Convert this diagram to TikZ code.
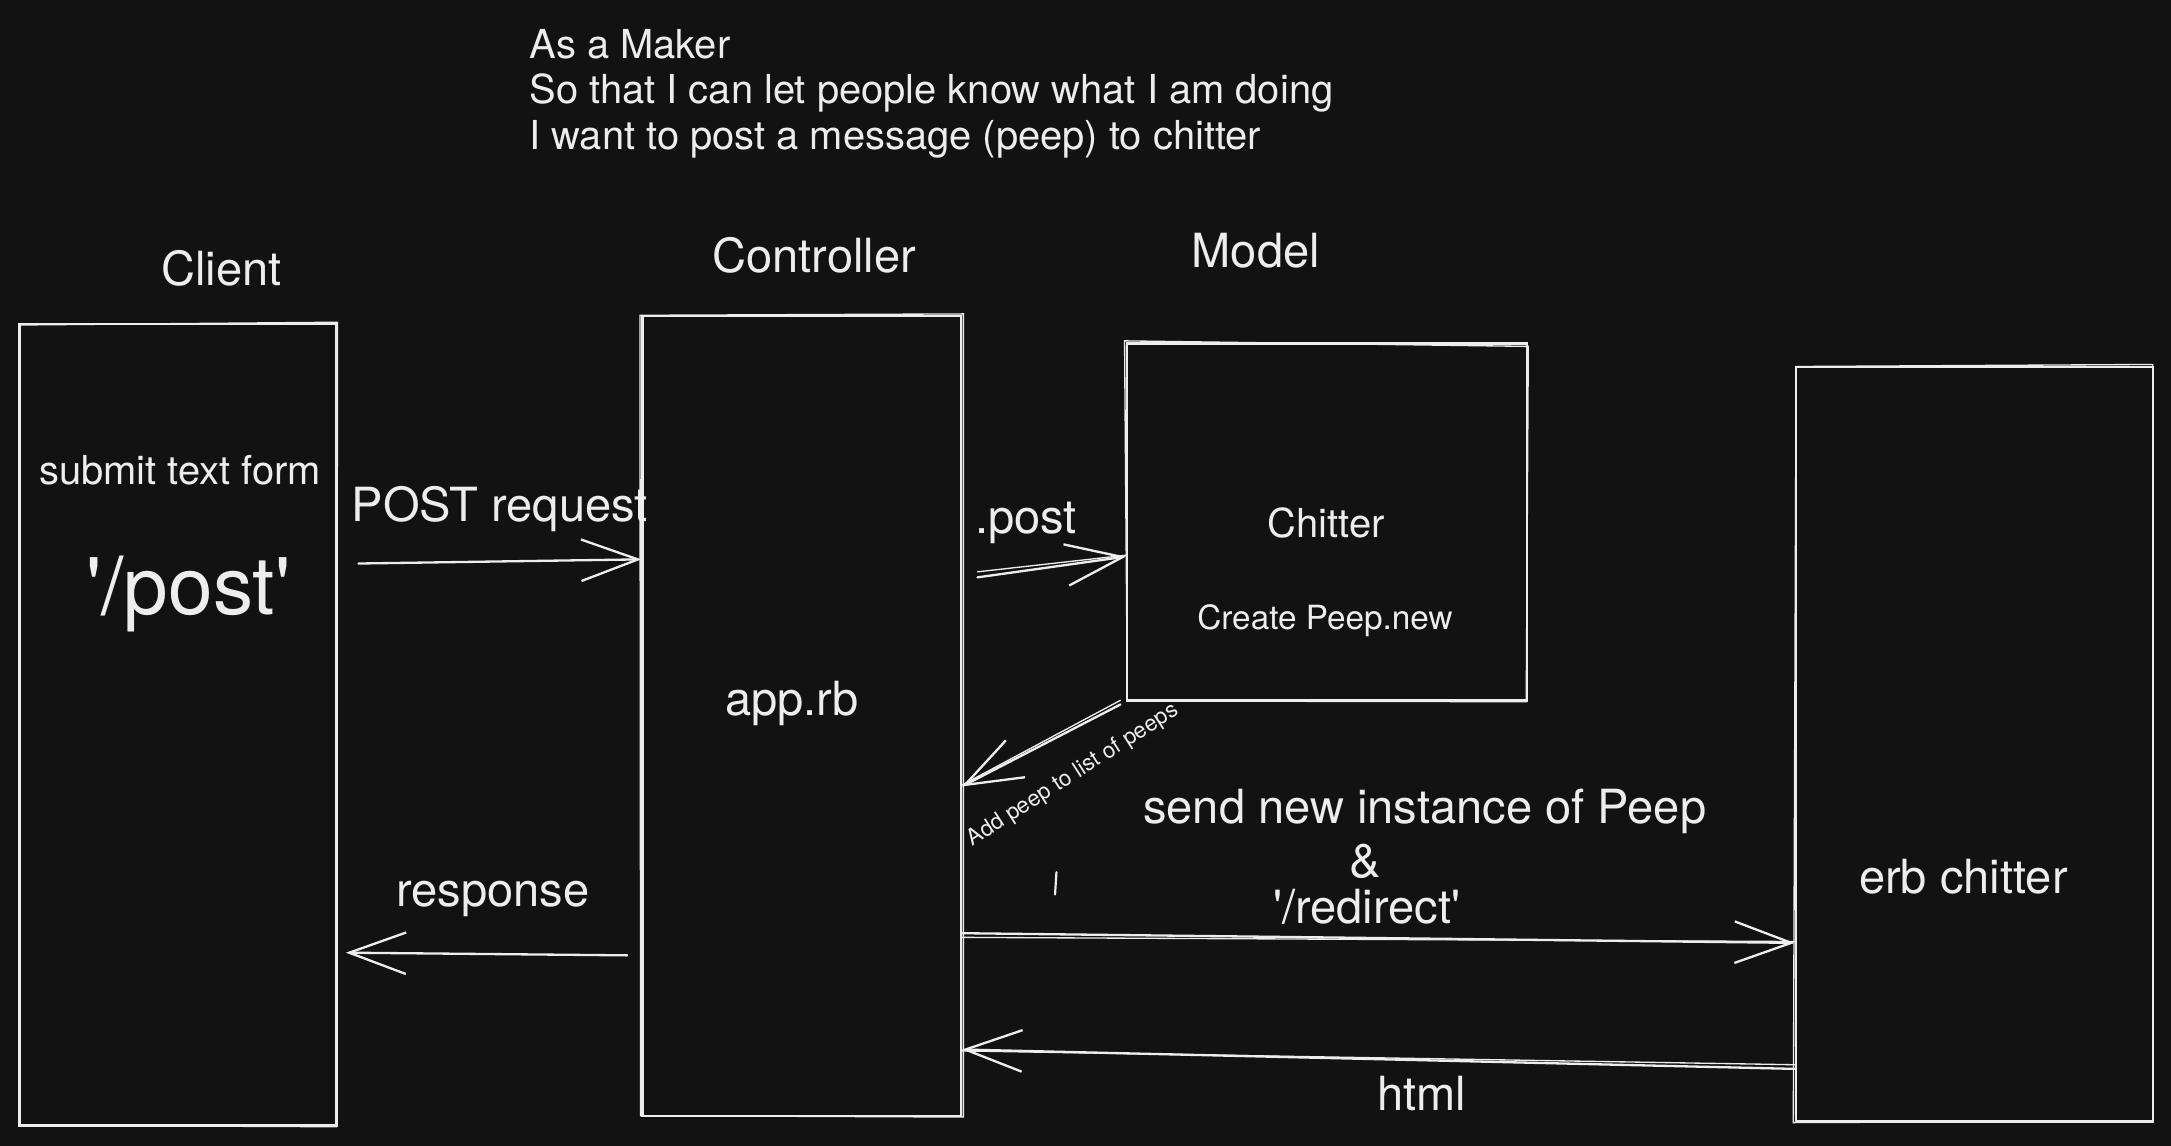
\documentclass[tikz,border=0pt]{standalone}
\usepackage{fontspec}
\setmainfont{TeX Gyre Heros}
\usetikzlibrary{arrows.meta}
\definecolor{bg}{HTML}{121212}
\definecolor{ink}{HTML}{EDEDED}
\begin{document}
\begin{tikzpicture}[x=0.02cm,y=-0.02cm,
  box/.style={draw=ink, line width=0.95pt, inner sep=0pt},
  sk/.style={draw=ink, line width=0.55pt, line cap=round},
  lbl/.style={text=ink, inner sep=0pt, font=\fontsize{19.35}{23}\selectfont},
  mid/.style={text=ink, inner sep=0pt, font=\fontsize{16.4}{19}\selectfont},
  sml/.style={text=ink, inner sep=0pt, font=\fontsize{13.7}{16}\selectfont},
  big/.style={text=ink, inner sep=0pt, font=\fontsize{33}{38}\selectfont},
  tiny/.style={text=ink, inner sep=0pt, font=\fontsize{9.2}{11}\selectfont},
  ttl/.style={text=ink, inner sep=0pt, font=\fontsize{16.4}{19}\selectfont},
  arr/.style={draw=ink, line width=0.95pt, line cap=round, line join=round,
              -{Straight Barb[length=0.82cm,width=0.6cm]}}]
\useasboundingbox (0,0) rectangle (1568,827);
\fill[bg] (-10,-10) rectangle (1578,837);

% title
\node[ttl, anchor=base west] (t1) at (382,42) {As a Maker};
\node[ttl, anchor=base west] (t2) at (382,75) {So that I can let people know what I am doing};
\node[ttl, anchor=base west] (t3) at (382,108) {I want to post a message (peep) to chitter};

% boxes
\node[box, minimum width=4.58cm, minimum height=11.58cm] (client) at (128.5,523.5) {};
\node[box, minimum width=4.60cm, minimum height=11.56cm] (ctrl) at (579,517) {};
\node[box, minimum width=5.78cm, minimum height=5.16cm] (model) at (958.5,377) {};
\node[box, minimum width=5.16cm, minimum height=10.9cm] (erb) at (1426,537.5) {};

% sketchy second strokes
\draw[sk] ([shift={(1,1.5)}]client.north west) -- ([shift={(0,-0.5)}]client.north east)
  -- ([shift={(-1,0)}]client.south east) -- ([shift={(1,-1)}]client.south west) -- cycle;
\draw[sk] ([shift={(-1,0.5)}]ctrl.north west) -- ([shift={(1,-0.5)}]ctrl.north east)
  -- ([shift={(1,0)}]ctrl.south east) -- ([shift={(-0.5,-1)}]ctrl.south west) -- cycle;
\draw[sk] ([shift={(-1,-1)}]model.north west) -- ([shift={(0,3)}]model.north east)
  -- ([shift={(-1.5,0)}]model.south east) -- ([shift={(1,-0.5)}]model.south west) -- cycle;
\draw[sk] ([shift={(1,0.5)}]erb.north west) -- ([shift={(-1,-1)}]erb.north east)
  -- ([shift={(-1,-1)}]erb.south east) -- ([shift={(-1,0)}]erb.south west) -- cycle;

% headings
\node[lbl, anchor=base] (lclient) at (160,206) {Client};
\node[lbl, anchor=base] (lctrl) at (588,197) {Controller};
\node[lbl, anchor=base] (lmodel) at (907,193) {Model};

% box texts
\node[mid, anchor=base] (lsubmit) at (130,350) {submit text form};
\node[big, anchor=base] (lpost) at (136,444) {\textquotesingle/post\textquotesingle};
\node[lbl, anchor=base] (lapp) at (572,517) {app.rb};
\node[mid, anchor=base] (lchitter) at (958,388) {Chitter};
\node[sml, anchor=base] (lcreate) at (957,455) {Create Peep.new};
\node[lbl, anchor=base] (lerb) at (1418,645) {erb chitter};

% connector labels
\node[lbl, anchor=base] (lpostreq) at (361,377) {POST request};
\node[lbl, anchor=base] (ldotpost) at (741,385) {.post};
\node[tiny, rotate=32.7] (ladd) at (775,560) {Add peep to list of peeps};
\node[lbl, anchor=base] (lsend) at (1029,595) {send new instance of Peep};
\node[lbl, anchor=base] (lamp) at (986,634) {\&};
\node[lbl, anchor=base] (lredir) at (987,667) {\textquotesingle/redirect\textquotesingle};
\node[lbl, anchor=base] (lresp) at (356,655) {response};
\node[lbl, anchor=base] (lhtml) at (1027,802) {html};

% connectors
\coordinate (pS) at (259,407);
\draw[arr] (pS) -- (ctrl.west |- 0,404);

\coordinate (dS) at (706,417);
\coordinate (dS2) at (706,413);
\draw[arr] (dS) -- (model.west |- 0,402);
\draw[sk] (dS2) -- (model.west |- 0,401);

\draw[arr] ([shift={(-4,2)}]model.south west) -- (ctrl.east |- 0,568);
\draw[sk] ([shift={(-4,-1)}]model.south west) -- (ctrl.east |- 0,567);

\coordinate (rS) at (453,690);
\draw[arr, shorten >=0.12cm] (rS) -- (client.east |- 0,688);

\draw[arr] (ctrl.east |- 0,674) -- (erb.west |- 0,681);
\draw[sk] (ctrl.east |- 0,677) -- (erb.west |- 0,680);

\draw[arr] (erb.west |- 0,772) -- (ctrl.east |- 0,758);
\draw[sk] (erb.west |- 0,769) -- (ctrl.east |- 0,759);

% stray stroke
\coordinate (k1) at (763,630);
\coordinate (k2) at (762,646);
\draw[sk, line width=0.9pt] (k1) -- (k2);
\end{tikzpicture}
\end{document}
